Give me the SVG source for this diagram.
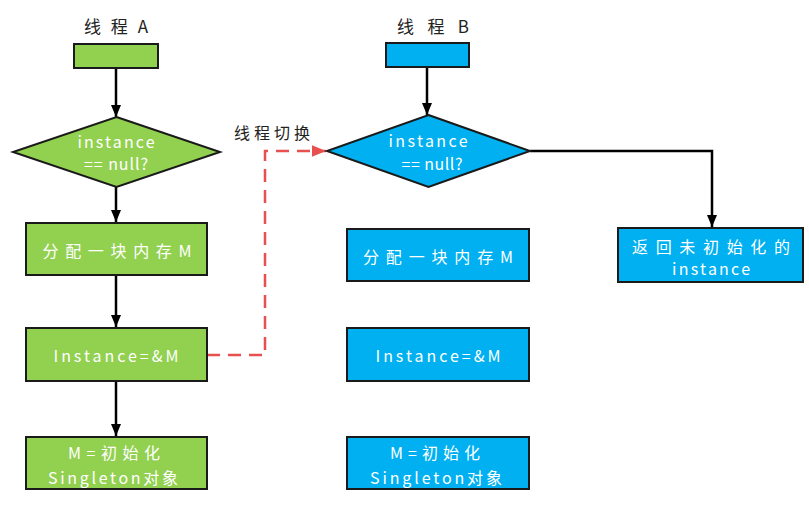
<svg xmlns="http://www.w3.org/2000/svg" width="809" height="509" viewBox="0 0 809 509">
<defs>
<style>
.g{fill:#92D050;stroke:#1a1a1a;stroke-width:2}
.b{fill:#00B0F0;stroke:#1a1a1a;stroke-width:2}
.t{fill:#ffffff;font-family:"Noto Sans CJK SC","Liberation Sans",sans-serif;font-size:16px;text-anchor:middle;dominant-baseline:central}
.h{fill:#222;font-family:"Noto Sans CJK SC","Liberation Sans",sans-serif;font-size:17px;text-anchor:middle;dominant-baseline:central}
.c{fill:none;stroke:#000;stroke-width:2.5}
.d{fill:none;stroke:#E8504F;stroke-width:2.5;stroke-dasharray:13 8}
</style>
<marker id="ah" viewBox="0 0 12 10" refX="12" refY="5" markerWidth="12" markerHeight="10" markerUnits="userSpaceOnUse" orient="auto"><path d="M0,0 L12,5 L0,10 Z" fill="#000"/></marker>
<marker id="ar" viewBox="0 0 12 10" refX="12" refY="5" markerWidth="14" markerHeight="12" markerUnits="userSpaceOnUse" orient="auto"><path d="M0,0 L12,5 L0,10 Z" fill="#E8504F"/></marker>
</defs>
<rect width="809" height="509" fill="#fff"/>
<text class="h" x="116" y="25" textLength="64" lengthAdjust="spacing">线程A</text>
<text class="h" x="433" y="25" textLength="72" lengthAdjust="spacing">线程B</text>
<g id="connectors">
<line class="c" x1="116" y1="68" x2="116" y2="117" marker-end="url(#ah)"/>
<line class="c" x1="116" y1="187" x2="116" y2="222" marker-end="url(#ah)"/>
<line class="c" x1="116" y1="275" x2="116" y2="327" marker-end="url(#ah)"/>
<line class="c" x1="116" y1="381" x2="116" y2="436" marker-end="url(#ah)"/>
<line class="c" x1="427" y1="67" x2="427" y2="115" marker-end="url(#ah)"/>
<polyline class="c" points="530,151 712,151 712,227" marker-end="url(#ah)"/>
<polyline class="d" points="207,355 265,355 265,151 326,151" marker-end="url(#ar)"/>
<text x="272" y="132" fill="#222" font-family="'Noto Sans CJK SC','Liberation Sans',sans-serif" font-size="16" text-anchor="middle" dominant-baseline="central" textLength="76" lengthAdjust="spacing">线程切换</text>
</g>
<g id="a-start"><rect class="g" x="74" y="44" width="84" height="24"/></g>
<g id="a-check"><polygon class="g" points="116.5,117 220,152 116.5,187 13,152"/>
<text class="t" x="116" y="141" textLength="77" lengthAdjust="spacing">instance</text>
<text class="t" x="116" y="163" textLength="64" lengthAdjust="spacing">== null?</text></g>
<g id="a-alloc"><rect class="g" x="26" y="223" width="181" height="52"/>
<text class="t" x="117" y="250" textLength="149" lengthAdjust="spacing">分配一块内存M</text></g>
<g id="a-assign"><rect class="g" x="26" y="328" width="181" height="53"/>
<text class="t" x="116" y="355" textLength="125" lengthAdjust="spacing">Instance=&amp;M</text></g>
<g id="a-init"><rect class="g" x="26" y="437" width="181" height="52"/>
<text class="t" x="114" y="452" textLength="92" lengthAdjust="spacing">M=初始化</text>
<text class="t" x="113" y="477" textLength="130" lengthAdjust="spacing">Singleton对象</text></g>
<g id="b-start"><rect class="b" x="386" y="43" width="83" height="24"/></g>
<g id="b-check"><polygon class="b" points="428.5,115 530,151 428.5,187 327,151"/>
<text class="t" x="428" y="140" textLength="79" lengthAdjust="spacing">instance</text>
<text class="t" x="432" y="163" textLength="61" lengthAdjust="spacing">== null?</text></g>
<g id="b-alloc"><rect class="b" x="347" y="229" width="182" height="52"/>
<text class="t" x="438" y="256" textLength="150" lengthAdjust="spacing">分配一块内存M</text></g>
<g id="b-assign"><rect class="b" x="347" y="328" width="182" height="53"/>
<text class="t" x="438" y="355" textLength="125" lengthAdjust="spacing">Instance=&amp;M</text></g>
<g id="b-init"><rect class="b" x="347" y="437" width="182" height="52"/>
<text class="t" x="435" y="452" textLength="90" lengthAdjust="spacing">M=初始化</text>
<text class="t" x="436" y="477" textLength="132" lengthAdjust="spacing">Singleton对象</text></g>
<g id="b-return"><rect class="b" x="618" y="228" width="185" height="54"/>
<text class="t" x="711" y="246" textLength="158" lengthAdjust="spacing">返回未初始化的</text>
<text class="t" x="711" y="268" textLength="78" lengthAdjust="spacing">instance</text></g>
</svg>
